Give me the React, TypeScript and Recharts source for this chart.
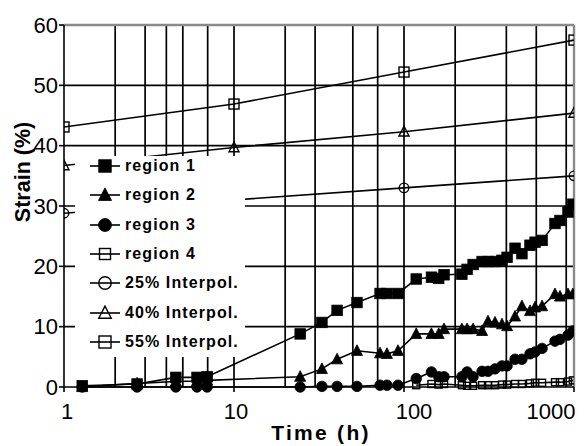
import React from 'react';
import { LineChart, Line, XAxis, YAxis, CartesianGrid, ReferenceLine, Legend } from 'recharts';

// ---- data ----
const times = [1.28, 2.69, 4.55, 6.06, 6.95, 24.5, 32.9, 40.4, 52.9, 72.3, 79.4, 92.2, 118, 145, 160, 172, 219, 235, 255, 288, 312, 343, 377, 404, 450, 494, 551, 590, 649, 773, 827, 922, 985];
const region1 = [0.2, 0.5, 1.6, 1.6, 1.7, 8.8, 10.7, 12.7, 14.0, 15.5, 15.5, 15.5, 17.9, 18.2, 18.0, 18.6, 18.7, 19.5, 20.3, 20.8, 20.8, 20.8, 21.0, 21.5, 23.0, 22.1, 23.5, 24.0, 24.3, 27.1, 27.6, 29.0, 30.3];
const region2 = [0, 0.6, 0.9, 1.0, 1.1, 1.7, 3.0, 4.6, 6.0, 5.6, 5.5, 6.0, 8.8, 8.8, 8.8, 9.6, 9.6, 9.6, 9.6, 9.3, 10.9, 10.7, 10.4, 10.1, 11.7, 13.4, 12.6, 13.2, 13.4, 15.4, 15.0, 15.4, 15.4];
const region3 = [0, 0, 0, 0, 0, 0, 0.1, 0.1, 0.1, 0.3, 0.3, 0.3, 1.4, 2.5, 1.7, 1.7, 1.7, 2.5, 1.7, 2.6, 2.6, 3.0, 3.5, 3.5, 4.6, 4.6, 5.5, 5.8, 6.4, 7.6, 7.9, 8.6, 9.3];
const region4 = [null, null, null, null, null, null, null, null, null, null, null, null, 0.3, 0.5, 0.4, 0.5, 0.3, 0.2, 0.2, 0.3, 0.3, 0.3, 0.4, 0.4, 0.5, 0.5, 0.6, 0.7, 0.7, 0.8, 0.8, 0.9, 1.1];

const interpTimes = [1, 10, 100, 1000];
const interp25 = [28.8, 31.0, 33.0, 35.0];
const interp40 = [36.7, 39.7, 42.3, 45.4];
const interp55 = [43.1, 46.9, 52.2, 57.5];

const xTicks = [1, 10, 100, 1000];
const yTicks = [0, 10, 20, 30, 40, 50, 60];
const xGrid = [2, 3, 4, 5, 6, 7, 8, 9, 10, 20, 30, 40, 50, 60, 70, 80, 90, 100, 200, 300, 400, 500, 600, 700, 800, 900];
const yGrid = [10, 20, 30, 40, 50];

const seriesNames = ['region 1', 'region 2', 'region 3', 'region 4', '25% Interpol.', '40% Interpol.', '55% Interpol.'];

const toPoints = (xs: number[], ys: (number | null)[]) =>
  xs.map((x, i) => ({ x, y: ys[i] })).filter((p) => p.y !== null && p.y !== undefined);

const FONT = "'Liberation Sans', Arial, Helvetica, sans-serif";

type Shape = 'sqF' | 'triF' | 'cirF' | 'sqO' | 'cirO' | 'triO';

const shapeByName: Record<string, { shape: Shape; size: number; legendSize: number }> = {
  'region 1': { shape: 'sqF', size: 10.5, legendSize: 12.5 },
  'region 2': { shape: 'triF', size: 11, legendSize: 13 },
  'region 3': { shape: 'cirF', size: 10.5, legendSize: 13 },
  'region 4': { shape: 'sqO', size: 7, legendSize: 11 },
  '25% Interpol.': { shape: 'cirO', size: 9.5, legendSize: 12.5 },
  '40% Interpol.': { shape: 'triO', size: 10, legendSize: 12.5 },
  '55% Interpol.': { shape: 'sqO', size: 10, legendSize: 12 },
};

const Marker = ({ shape, size, cx, cy }: { shape: Shape; size: number; cx: number; cy: number }) => {
  const h = size / 2;
  const filled = shape === 'sqF' || shape === 'triF' || shape === 'cirF';
  const fill = filled ? '#000' : 'none';
  const sw = filled ? 0.8 : 1.4;
  if (shape === 'sqF' || shape === 'sqO') {
    return <rect x={cx - h} y={cy - h} width={size} height={size} fill={fill} stroke="#000" strokeWidth={sw} />;
  }
  if (shape === 'cirF' || shape === 'cirO') {
    return <circle cx={cx} cy={cy} r={h} fill={fill} stroke="#000" strokeWidth={sw} />;
  }
  const pts = `${cx},${cy - size * 0.55} ${cx - h},${cy + size * 0.42} ${cx + h},${cy + size * 0.42}`;
  return <polygon points={pts} fill={fill} stroke="#000" strokeWidth={sw} />;
};

const makeDot = (name: string) => (p: any) => {
  const { cx, cy, index } = p;
  const cfg = shapeByName[name];
  if (cx == null || cy == null) return <g key={`${name}-${index}`} />;
  return (
    <g key={`${name}-${index}`}>
      <Marker shape={cfg.shape} size={cfg.size} cx={cx} cy={cy} />
    </g>
  );
};

const xTickOffsets: Record<number, number> = { 1: 3, 10: 2, 100: 10, 1000: -17 };

const XTick = (props: any) => {
  const { x, y, payload } = props;
  return (
    <text
      x={x + (xTickOffsets[payload.value] ?? 0)}
      y={y}
      dy="0.71em"
      textAnchor="middle"
      fontSize={22}
      fontFamily={FONT}
      fill="#000"
    >
      {payload.value}
    </text>
  );
};

const XLabel = (props: any) => {
  const vb = props.viewBox;
  return (
    <text
      x={vb.x + vb.width / 2 + 2}
      y={vb.y + 53}
      textAnchor="middle"
      fontSize={21}
      fontWeight="bold"
      fontFamily={FONT}
      letterSpacing={2.3}
      fill="#000"
    >
      Time (h)
    </text>
  );
};

const YLabel = (props: any) => {
  const vb = props.viewBox;
  const x = vb.x + 30;
  const y = vb.y + vb.height / 2 - 34;
  return (
    <text
      x={x}
      y={y}
      transform={`rotate(-90, ${x}, ${y})`}
      textAnchor="middle"
      fontSize={21.5}
      fontWeight="bold"
      fontFamily={FONT}
      fill="#000"
    >
      Strain (%)
    </text>
  );
};

const renderLegend = (props: any) => {
  const payload = [...(props.payload || [])].sort(
    (a: any, b: any) => seriesNames.indexOf(a.value) - seriesNames.indexOf(b.value)
  );
  return (
    <div style={{ position: 'relative', top: -4.67, paddingLeft: 14 }}>
      {payload.map((entry: any) => {
        const cfg = shapeByName[entry.value];
        return (
          <div key={entry.value} style={{ display: 'flex', alignItems: 'center', height: 29.33 }}>
            <svg width={32} height={16} style={{ display: 'block' }}>
              <line x1={1} y1={8} x2={31} y2={8} stroke="#000" strokeWidth={1.6} />
              {cfg && <Marker shape={cfg.shape} size={cfg.legendSize} cx={16} cy={8} />}
            </svg>
            <span
              style={{
                marginLeft: 4,
                fontFamily: FONT,
                fontWeight: 'bold',
                fontSize: 16,
                letterSpacing: 1.1,
                color: '#000',
                whiteSpace: 'nowrap',
                lineHeight: '18px',
              }}
            >
              {entry.value}
            </span>
          </div>
        );
      })}
    </div>
  );
};

export default function App() {
  const series = [
    { name: 'region 1', data: toPoints(times, region1) },
    { name: 'region 2', data: toPoints(times, region2) },
    { name: 'region 3', data: toPoints(times, region3) },
    { name: 'region 4', data: toPoints(times, region4) },
    { name: '25% Interpol.', data: toPoints(interpTimes, interp25) },
    { name: '40% Interpol.', data: toPoints(interpTimes, interp40) },
    { name: '55% Interpol.', data: toPoints(interpTimes, interp55) },
  ];

  return (
    <div style={{ position: 'absolute', left: 0, top: 0, background: '#fff' }}>
      <LineChart width={584} height={446} margin={{ top: 25, right: 10, bottom: 0, left: 0 }}>
        <CartesianGrid
          stroke="#000"
          strokeWidth={1.7}
          horizontalValues={yGrid}
          verticalValues={xGrid}
        />
        <ReferenceLine y={60} stroke="#8a8a8a" strokeWidth={2.4} />
        <ReferenceLine x={1000} stroke="#8a8a8a" strokeWidth={2.4} />
        <XAxis
          type="number"
          dataKey="x"
          scale="log"
          domain={[1, 1000]}
          ticks={xTicks}
          allowDataOverflow
          height={59}
          tickSize={5}
          tickMargin={11}
          axisLine={{ stroke: '#000', strokeWidth: 1.6 }}
          tickLine={{ stroke: '#000', strokeWidth: 1.6 }}
          tick={<XTick />}
          label={XLabel}
        />
        <YAxis
          type="number"
          domain={[0, 60]}
          ticks={yTicks}
          width={64}
          tickSize={5}
          tickMargin={1}
          axisLine={{ stroke: '#000', strokeWidth: 1.6 }}
          tickLine={{ stroke: '#000', strokeWidth: 1.6 }}
          tick={{ fontSize: 22, fill: '#000', fontFamily: FONT }}
          label={YLabel}
        />
        {series.map((s) => (
          <Line
            key={s.name}
            name={s.name}
            data={s.data}
            dataKey="y"
            type="linear"
            stroke="#000"
            strokeWidth={1.6}
            dot={makeDot(s.name)}
            activeDot={false}
            isAnimationActive={false}
          />
        ))}
        <Legend
          layout="horizontal"
          verticalAlign="middle"
          align="center"
          content={renderLegend}
          wrapperStyle={{ left: 75, top: 156, width: 170, height: 201, background: '#fff' }}
        />
      </LineChart>
    </div>
  );
}
